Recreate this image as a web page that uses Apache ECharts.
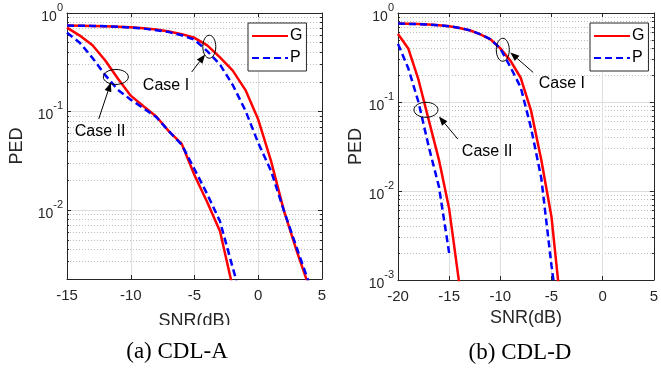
<!DOCTYPE html>
<html><head><meta charset="utf-8">
<script src="https://cdn.jsdelivr.net/npm/echarts@6/dist/echarts.min.js"></script>
<style>html,body{margin:0;padding:0;background:#fff}#c{width:661px;height:368px}</style>
</head><body><div id="c"></div>
<script>
// ---------------- data ----------------
const snrA = [-15,-14,-13,-12,-11,-10,-9,-8,-7,-6,-5,-4,-3,-2,-1,0,1,2,3,4,5];
const aCaseI_G  = [0.745,0.744,0.74,0.735,0.725,0.715,0.70,0.68,0.65,0.61,0.56,0.47,0.355,0.26,0.165,0.083,0.0316,0.010,0.0039,0.00164,0.0007];
const aCaseI_P  = [0.745,0.744,0.74,0.735,0.724,0.713,0.695,0.67,0.64,0.595,0.535,0.41,0.30,0.186,0.102,0.048,0.025,0.010,0.0042,0.0018,0.0008];
const aCaseII_G = [0.71,0.59,0.47,0.33,0.215,0.145,0.113,0.089,0.063,0.047,0.0226,0.012,0.0061,0.00164,0.0005,null,null,null,null,null,null];
const aCaseII_P = [0.63,0.50,0.35,0.234,0.166,0.132,0.108,0.088,0.063,0.046,0.026,0.0145,0.0077,0.0026,0.0009,null,null,null,null,null,null];

const snrD = [-20,-19,-18,-17,-16,-15,-14,-13,-12,-11,-10,-9,-8,-7,-6,-5,-4,-3,-2,-1,0,1,2,3,4,5];
const dCaseI_G  = [0.76,0.755,0.75,0.742,0.728,0.71,0.68,0.64,0.58,0.51,0.40,0.29,0.186,0.08,0.0224,0.0051,0.0004,null,null,null,null,null,null,null,null,null];
const dCaseI_P  = [0.76,0.755,0.75,0.742,0.728,0.71,0.68,0.64,0.58,0.51,0.40,0.245,0.145,0.051,0.014,0.00145,0.0002,null,null,null,null,null,null,null,null,null];
const dCaseII_G = [0.58,0.40,0.178,0.063,0.0224,0.0063,0.00089,null,null,null,null,null,null,null,null,null,null,null,null,null,null,null,null,null,null,null];
const dCaseII_P = [0.45,0.24,0.10,0.0316,0.0112,0.002,null,null,null,null,null,null,null,null,null,null,null,null,null,null,null,null,null,null,null,null];

const yDecadesA = [0.01, 0.1, 1];
const yDecadesD = [0.001, 0.01, 0.1, 1];
const seriesNames = ['G', 'P'];
const captions = ['(a) CDL-A', '(b) CDL-D'];

// ---------------- helpers ----------------
const F = 'Liberation Sans, Arial, sans-serif';
const TXT = '#262626';
function minorOf(minV) {
  const out = [];
  for (let d = 0.001; d < 1; d *= 10) {
    for (let k = 2; k <= 9; k++) {
      const v = +(k * d).toPrecision(6);
      if (v >= minV - 1e-12 && v < 1) out.push(v);
    }
  }
  return out;
}
function pairs(xs, ys) { return xs.map((x, i) => [x, ys[i]]).filter(p => p[1] != null); }

function xAxes(gi, min, max, nameGap) {
  return [
    { type: 'value', gridIndex: gi, position: 'bottom', min, max, interval: 5,
      axisLine: { show: true, onZero: false, lineStyle: { color: TXT, width: 1 } },
      axisTick: { show: true, inside: true, length: 4, lineStyle: { color: TXT } },
      axisLabel: { color: TXT, fontSize: 15, fontFamily: F, margin: 9 },
      splitLine: { show: true, lineStyle: { color: '#dedede', width: 1 } },
      name: 'SNR(dB)', nameLocation: 'middle', nameGap,
      nameTextStyle: { color: TXT, fontSize: 18, fontFamily: F } },
    { type: 'value', gridIndex: gi, position: 'top', min, max, interval: 5,
      axisLine: { show: true, onZero: false, lineStyle: { color: TXT, width: 1 } },
      axisTick: { show: true, inside: true, length: 4, lineStyle: { color: TXT } },
      axisLabel: { show: false }, splitLine: { show: false } }
  ];
}
function yAxes(gi, min, decades, nameGap) {
  const minors = minorOf(min);
  const base = { type: 'log', logBase: 10, gridIndex: gi, min, max: 1 };
  const line = { show: true, onZero: false, lineStyle: { color: TXT, width: 1 } };
  return [
    Object.assign({}, base, { position: 'left', axisLine: line,
      axisTick: { show: true, inside: true, length: 4, customValues: decades, lineStyle: { color: TXT } },
      axisLabel: { customValues: decades, margin: 4,
        formatter: v => '{b|10}{s|' + Math.round(Math.log10(v)) + '}',
        rich: { b: { fontSize: 14, fontFamily: F, color: TXT, padding: [8, 0, 0, 0], verticalAlign: 'bottom' },
                s: { fontSize: 11, fontFamily: F, color: TXT, verticalAlign: 'top', lineHeight: 11 } } },
      splitLine: { show: true, lineStyle: { color: '#dedede', width: 1 } },
      name: 'PED', nameLocation: 'middle', nameGap, nameRotate: 90,
      nameTextStyle: { color: TXT, fontSize: 18, fontFamily: F } }),
    Object.assign({}, base, { position: 'right', axisLine: line,
      axisTick: { show: true, inside: true, length: 4, customValues: decades, lineStyle: { color: TXT } },
      axisLabel: { show: false }, splitLine: { show: false } }),
    Object.assign({}, base, { position: 'left', axisLine: { show: false, onZero: false },
      axisTick: { show: true, inside: true, length: 2, customValues: minors, lineStyle: { color: TXT } },
      axisLabel: { show: false },
      splitLine: { show: true, lineStyle: { color: '#bdbdbd', width: 1, type: [1, 2] } } }),
    Object.assign({}, base, { position: 'right', axisLine: { show: false, onZero: false },
      axisTick: { show: true, inside: true, length: 2, customValues: minors, lineStyle: { color: TXT } },
      axisLabel: { show: false }, splitLine: { show: false } })
  ];
}
function mkSeries(name, xi, yi, data, dashed) {
  const color = dashed ? '#0000ff' : '#ff0000';
  return { type: 'line', name, xAxisIndex: xi, yAxisIndex: yi, data, symbol: 'none', showSymbol: false,
    lineStyle: { color, width: 2.5, type: dashed ? [7, 4] : 'solid' }, itemStyle: { color }, z: 5, animation: false };
}
function mkLegend(left) {
  return { data: seriesNames, orient: 'vertical', left, top: 23, selectedMode: false,
    backgroundColor: '#fff', borderColor: TXT, borderWidth: 1, padding: [5, 4, 5, 3],
    itemWidth: 36, itemHeight: 14, itemGap: 6,
    itemStyle: { opacity: 0 },
    textStyle: { fontSize: 16, fontFamily: F, color: '#000', padding: [0, 0, 0, -3] } };
}

const chart = echarts.init(document.getElementById('c'), null, { renderer: 'canvas' });
chart.setOption({
  animation: false,
  backgroundColor: '#fff',
  grid: [
    { left: 67, top: 13, width: 255, height: 266, containLabel: false },
    { left: 398, top: 13, width: 261, height: 267, containLabel: false }
  ],
  xAxis: [...xAxes(0, -15, 5, 33), ...xAxes(1, -20, 5, 24)],
  yAxis: [...yAxes(0, 0.002, yDecadesA, 41), ...yAxes(1, 0.001, yDecadesD, 26)],
  legend: [mkLegend(248), mkLegend(590)],
  series: [
    mkSeries('G', 0, 0, pairs(snrA, aCaseI_G), false),
    mkSeries('P', 0, 0, pairs(snrA, aCaseI_P), true),
    mkSeries('G', 0, 0, pairs(snrA, aCaseII_G), false),
    mkSeries('P', 0, 0, pairs(snrA, aCaseII_P), true),
    mkSeries('G', 2, 4, pairs(snrD, dCaseI_G), false),
    mkSeries('P', 2, 4, pairs(snrD, dCaseI_P), true),
    mkSeries('G', 2, 4, pairs(snrD, dCaseII_G), false),
    mkSeries('P', 2, 4, pairs(snrD, dCaseII_P), true)
  ]
});

// ---------------- annotations (anchored in data space) ----------------
const annotations = [
  { xi: 0, yi: 0, label: 'Case I',  ell: [-3.84, 0.455], rx: 6.5, ry: 11.5, tail: [-5.22, 0.252], head: [-4.17, 0.38], text: [-9.05, 0.185] },
  { xi: 0, yi: 0, label: 'Case II', ell: [-11.17, 0.2245], rx: 12.5, ry: 7.5, tail: [-12.51, 0.0842], head: [-11.56, 0.197], text: [-14.39, 0.0628] },
  { xi: 2, yi: 4, label: 'Case I',  ell: [-9.76, 0.386], rx: 6.5, ry: 11.5, tail: [-6.79, 0.215], head: [-9.02, 0.36], text: [-6.24, 0.159] },
  { xi: 2, yi: 4, label: 'Case II', ell: [-17.27, 0.0817], rx: 12, ry: 7.5, tail: [-14.15, 0.0383], head: [-16.0, 0.0687], text: [-13.76, 0.0277] }
];
const els = [];
annotations.forEach(a => {
  const P = p => chart.convertToPixel({ xAxisIndex: a.xi, yAxisIndex: a.yi }, p);
  const c = P(a.ell), t = P(a.tail), h = P(a.head), tx = P(a.text);
  els.push({ type: 'ellipse', z: 50, shape: { cx: c[0], cy: c[1], rx: a.rx, ry: a.ry }, style: { fill: 'none', stroke: '#000', lineWidth: 1 } });
  const dx = h[0] - t[0], dy = h[1] - t[1], L = Math.hypot(dx, dy), ux = dx / L, uy = dy / L;
  const HL = 9, HW = 3.5;
  const bx = h[0] - ux * HL, by = h[1] - uy * HL;
  els.push({ type: 'line', z: 50, shape: { x1: t[0], y1: t[1], x2: bx, y2: by }, style: { stroke: '#000', lineWidth: 1 } });
  els.push({ type: 'polygon', z: 50, shape: { points: [[h[0], h[1]], [bx - uy * HW, by + ux * HW], [bx + uy * HW, by - ux * HW]] }, style: { fill: '#000' } });
  els.push({ type: 'text', z: 50, style: { text: a.label, x: tx[0], y: tx[1], fontSize: 16, fontFamily: F, fill: '#000', align: 'left', verticalAlign: 'middle' } });
});
// clip the lower part of the left x-axis title, as in the original figure
els.push({ type: 'rect', z: 60, shape: { x: 140, y: 325, width: 110, height: 12 }, style: { fill: '#fff' } });
els.push({ type: 'text', z: 70, style: { text: captions[0], x: 177, y: 352, align: 'center', verticalAlign: 'middle', fontSize: 23, fontFamily: 'Liberation Serif, Times New Roman, serif', fill: '#000' } });
els.push({ type: 'text', z: 70, style: { text: captions[1], x: 520, y: 353, align: 'center', verticalAlign: 'middle', fontSize: 23, fontFamily: 'Liberation Serif, Times New Roman, serif', fill: '#000' } });
chart.setOption({ graphic: { elements: els } });
</script>
</body></html>
